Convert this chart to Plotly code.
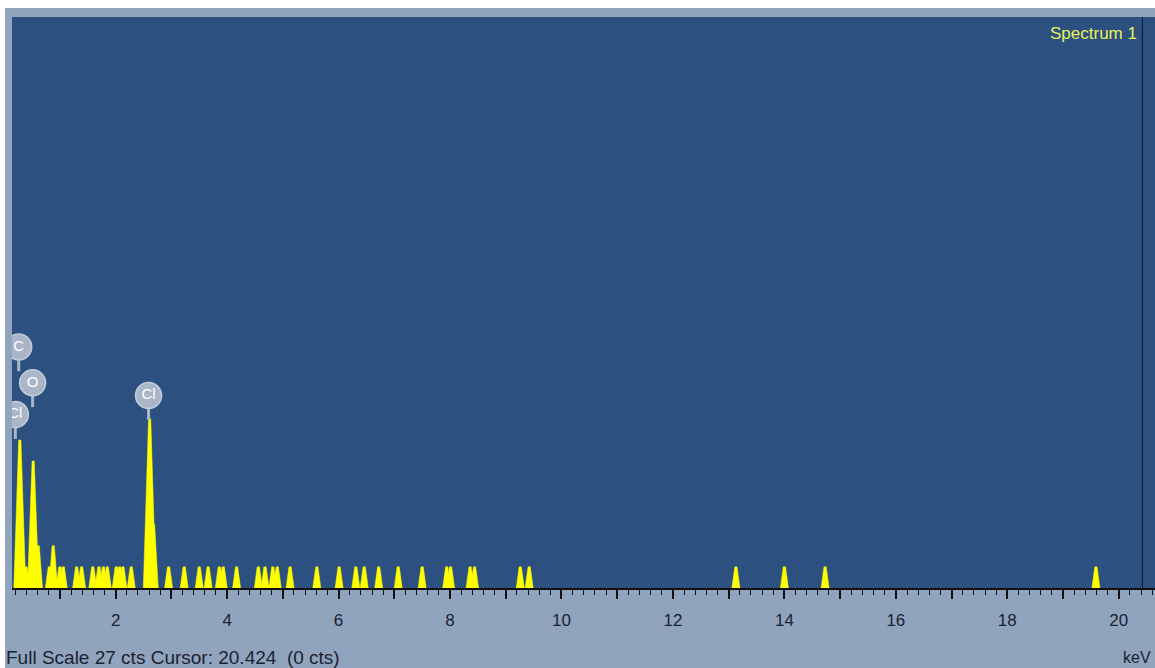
import plotly.graph_objects as go

# EDS spectrum: peak positions (keV) and counts per peak
peak_kev = [0.28, 0.39, 0.52, 0.61, 0.81, 0.88, 1.00, 1.06, 1.30, 1.39,
            1.59, 1.70, 1.78, 1.85, 2.01, 2.07, 2.13, 2.28, 2.61, 2.68,
            2.95, 3.23, 3.50, 3.66, 3.86, 3.93, 4.17, 4.56, 4.68, 4.82,
            4.90, 5.13, 5.61, 6.01, 6.31, 6.46, 6.72, 7.07, 7.50, 7.94,
            8.01, 8.36, 8.44, 9.26, 9.42, 13.13, 14.00, 14.73, 19.59]
peak_cts = [7, 1, 6, 2, 1, 2, 1, 1, 1, 1,
            1, 1, 1, 1, 1, 1, 1, 1, 8, 3,
            1, 1, 1, 1, 1, 1, 1, 1, 1, 1,
            1, 1, 1, 1, 1, 1, 1, 1, 1, 1,
            1, 1, 1, 1, 1, 1, 1, 1, 1]

# element markers
label_text = ["C", "O", "Cl", "Cl"]
label_kev = [0.26, 0.51, 0.20, 2.59]
label_cts = [11.4, 9.7, 8.2, 9.1]

# axis
x_range = [0.14, 20.65]
full_scale = 27
tick_vals = list(range(1, 21))
tick_text = [str(v) if v % 2 == 0 else "" for v in tick_vals]
cursor_kev = 20.424
cursor_cts = 0

W, H = 1155, 668
ML, MR, MT, MB = 12, 0, 17, 80
PLOT_BG = "#2c5181"
FRAME = "#91a4be"
YELLOW = "#ffff00"
BADGE = "#aab6c8"
FONT = "Liberation Sans, Arial, sans-serif"

fig = go.Figure()

# each peak drawn as a narrow filled spike
for e, c in zip(peak_kev, peak_cts):
    hb = 0.072 + 0.006 * (c - 1)
    ht = 0.02
    fig.add_trace(go.Scatter(
        x=[e - hb, e - ht, e + ht, e + hb],
        y=[0, c, c, 0],
        mode="lines", fill="toself", fillcolor=YELLOW,
        line=dict(color=YELLOW, width=0.5),
        hoverinfo="skip", showlegend=False))

# marker stems
sx, sy = [], []
for e, c in zip(label_kev, label_cts):
    sx += [e, e, None]
    sy += [c - 0.55, c - 1.15, None]
fig.add_trace(go.Scatter(x=sx, y=sy, mode="lines",
                         line=dict(color=BADGE, width=3),
                         hoverinfo="skip", showlegend=False))

# marker badges
fig.add_trace(go.Scatter(
    x=label_kev, y=label_cts, mode="markers+text",
    text=label_text, textposition="middle center",
    textfont=dict(family=FONT, size=15, color="white"),
    marker=dict(size=26, color=BADGE, line=dict(color="#c3ccd8", width=1.5)),
    hoverinfo="skip", showlegend=False))

fig.update_layout(
    width=W, height=H,
    margin=dict(l=ML, r=MR, t=MT, b=MB, pad=0),
    paper_bgcolor=FRAME, plot_bgcolor=PLOT_BG,
    showlegend=False,
    xaxis=dict(
        range=x_range, showgrid=False, zeroline=False,
        showline=True, linecolor="#111111", linewidth=1.5,
        ticks="outside", ticklen=9, tickwidth=1.5, tickcolor="#111111",
        tickvals=tick_vals, ticktext=tick_text,
        ticklabelstandoff=7,
        tickfont=dict(family=FONT, size=17, color="#1b2230"),
        minor=dict(dtick=0.2, ticks="outside", ticklen=5, tickwidth=1.2,
                   tickcolor="#111111", showgrid=False),
    ),
    yaxis=dict(range=[0, full_scale], visible=False, fixedrange=True),
)

# white page edges around the frame
top_white = 1 + (MT - 8) / (H - MT - MB)
fig.add_shape(type="rect", xref="paper", yref="paper",
              x0=-0.05, x1=1.05, y0=top_white, y1=1.1,
              fillcolor="white", line_width=0, layer="above")
fig.add_shape(type="rect", xref="paper", yref="paper",
              x0=-ML / (W - ML - MR), x1=-(ML - 5) / (W - ML - MR), y0=-0.2, y1=1.1,
              fillcolor="white", line_width=0, layer="above")

# cursor line
fig.add_shape(type="line", xref="x", yref="y domain",
              x0=cursor_kev, x1=cursor_kev, y0=0, y1=1,
              line=dict(color="#14202e", width=1.2))

fig.add_annotation(text="Spectrum 1", xref="paper", yref="paper",
                   x=(1139 - ML) / (W - ML - MR), y=1 - (34 - MT) / (H - MT - MB),
                   xanchor="right", yanchor="middle", showarrow=False,
                   font=dict(family=FONT, size=17, color="#e8f25a"))

fig.add_annotation(text=f"Full Scale {full_scale} cts Cursor: {cursor_kev:.3f}  ({cursor_cts} cts)",
                   xref="paper", yref="paper",
                   x=(4 - ML) / (W - ML - MR), y=-(657 - (H - MB)) / (H - MT - MB),
                   xanchor="left", yanchor="middle", showarrow=False,
                   font=dict(family=FONT, size=19, color="#1b2230"))

fig.add_annotation(text="keV", xref="paper", yref="paper",
                   x=(1153 - ML) / (W - ML - MR), y=-(657 - (H - MB)) / (H - MT - MB),
                   xanchor="right", yanchor="middle", showarrow=False,
                   font=dict(family=FONT, size=16, color="#1b2230"))

fig.write_html("out.html")
